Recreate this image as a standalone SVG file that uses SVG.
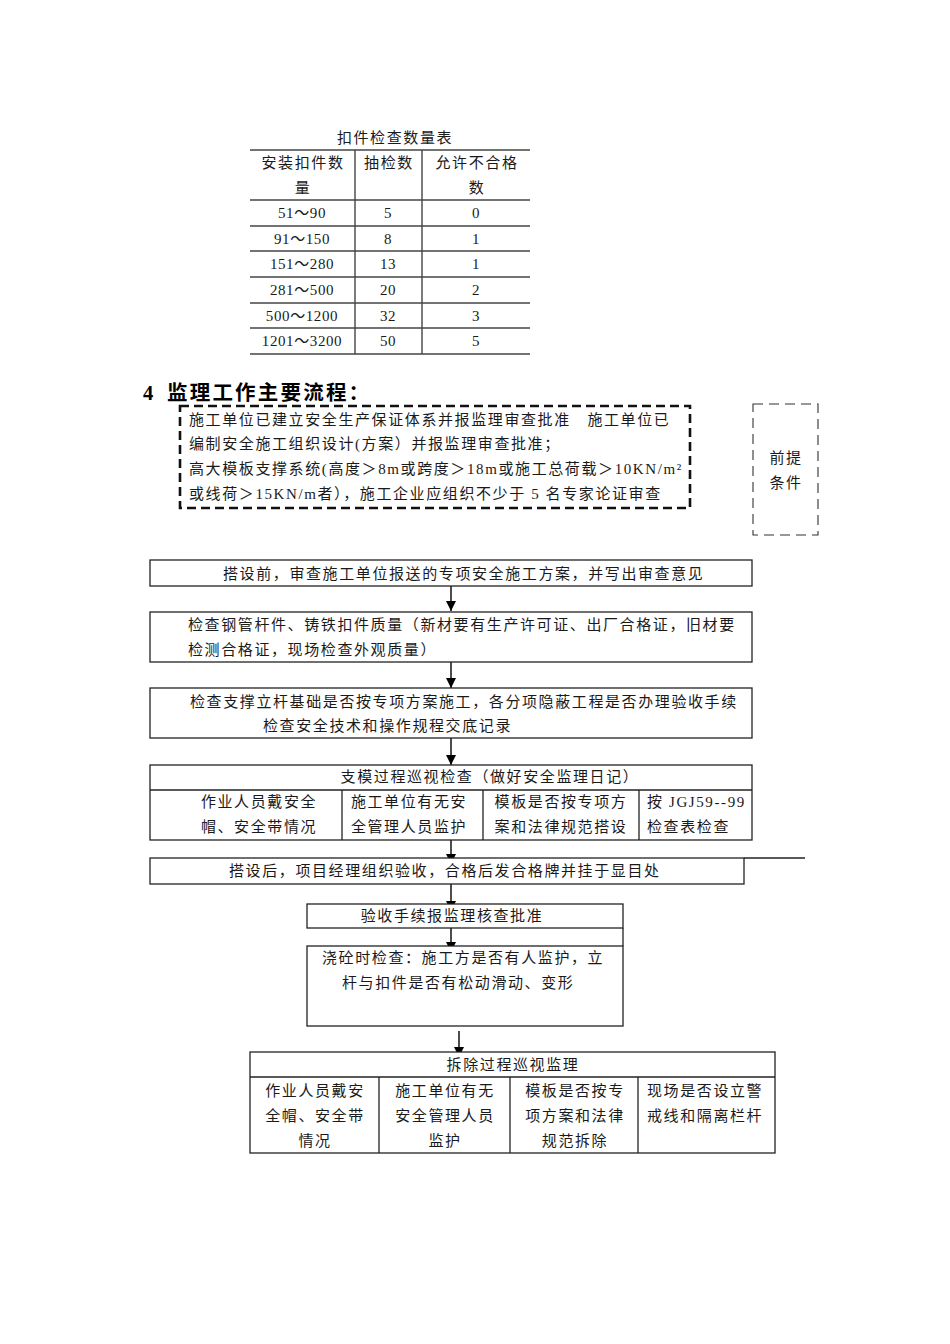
<svg xmlns="http://www.w3.org/2000/svg" width="950" height="1344" viewBox="0 0 950 1344">
<style>
.t{font-family:"Liberation Serif","Noto Sans CJK SC",serif;font-size:15px;fill:#1a1a1a;letter-spacing:1.6px}
.n{letter-spacing:0.6px}
.c{text-anchor:middle}
.b{fill:#fff;stroke:#222;stroke-width:1.3}
.ln{stroke:#222;stroke-width:1.3;fill:none}
.tl{stroke:#444;stroke-width:1.4;fill:none}
.h{font-family:"Liberation Serif","Noto Sans CJK SC",serif;font-size:20.5px;font-weight:bold;fill:#000;letter-spacing:2.2px}
.cn{stroke:#000;stroke-width:1.4;fill:none}
</style>
<defs>
<marker id="ah" markerWidth="10" markerHeight="10" refX="10" refY="5" orient="auto" markerUnits="userSpaceOnUse">
<path d="M0,0 L10,5 L0,10 Z" fill="#000"/>
</marker>
</defs>
<rect width="950" height="1344" fill="#fff"/>

<g id="table">
<text class="t c" x="395" y="143">扣件检查数量表</text>
<line class="tl" x1="250" y1="150" x2="530" y2="150"/>
<line class="tl" x1="250" y1="200" x2="530" y2="200"/>
<line class="tl" x1="250" y1="226" x2="530" y2="226"/>
<line class="tl" x1="250" y1="251" x2="530" y2="251"/>
<line class="tl" x1="250" y1="277" x2="530" y2="277"/>
<line class="tl" x1="250" y1="303" x2="530" y2="303"/>
<line class="tl" x1="250" y1="328" x2="530" y2="328"/>
<line class="tl" x1="250" y1="354" x2="530" y2="354"/>
<line class="tl" x1="355" y1="150" x2="355" y2="354"/>
<line class="tl" x1="422" y1="150" x2="422" y2="354"/>
<text class="t c" x="303" y="168">安装扣件数</text>
<text class="t c" x="303" y="193">量</text>
<text class="t c" x="389" y="168">抽检数</text>
<text class="t c" x="477" y="168">允许不合格</text>
<text class="t c" x="477" y="193">数</text>
<text class="t c n" x="302" y="218">51～90</text><text class="t c n" x="388" y="218">5</text><text class="t c n" x="476" y="218">0</text>
<text class="t c n" x="302" y="244">91～150</text><text class="t c n" x="388" y="244">8</text><text class="t c n" x="476" y="244">1</text>
<text class="t c n" x="302" y="269">151～280</text><text class="t c n" x="388" y="269">13</text><text class="t c n" x="476" y="269">1</text>
<text class="t c n" x="302" y="295">281～500</text><text class="t c n" x="388" y="295">20</text><text class="t c n" x="476" y="295">2</text>
<text class="t c n" x="302" y="321">500～1200</text><text class="t c n" x="388" y="321">32</text><text class="t c n" x="476" y="321">3</text>
<text class="t c n" x="302" y="346">1201～3200</text><text class="t c n" x="388" y="346">50</text><text class="t c n" x="476" y="346">5</text>
</g>

<g id="heading">
<text class="h" x="143" y="400">4</text>
<text class="h" x="167" y="400">监理工作主要流程：</text>
</g>

<g id="premise">
<rect x="180" y="406" width="510" height="102" fill="none" stroke="#111" stroke-width="2.6" stroke-dasharray="9 5"/>
<text class="t" x="189" y="425">施工单位已建立安全生产保证体系并报监理审查批准　施工单位已</text>
<text class="t" x="189" y="449">编制安全施工组织设计(方案）并报监理审查批准；</text>
<text class="t" x="189" y="474">高大模板支撑系统(高度＞8m或跨度＞18m或施工总荷载＞10KN/m²</text>
<text class="t" x="189" y="499">或线荷＞15KN/m者），施工企业应组织不少于 5 名专家论证审查</text>
</g>

<g id="precondition">
<rect x="753" y="404" width="65" height="131" fill="none" stroke="#333" stroke-width="1.1" stroke-dasharray="10 6"/>
<text class="t c" x="786" y="463">前提</text>
<text class="t c" x="786" y="488">条件</text>
</g>

<g id="connectors">
<line class="cn" x1="451" y1="586" x2="451" y2="611" marker-end="url(#ah)"/>
<line class="cn" x1="451" y1="662" x2="451" y2="688" marker-end="url(#ah)"/>
<line class="cn" x1="451" y1="738" x2="451" y2="765" marker-end="url(#ah)"/>
<line class="cn" x1="451" y1="840" x2="451" y2="864" marker-end="url(#ah)"/>
<line class="cn" x1="451" y1="884" x2="451" y2="911" marker-end="url(#ah)"/>
<line class="cn" x1="451" y1="928" x2="451" y2="952" marker-end="url(#ah)"/>
<line class="cn" x1="459" y1="1031" x2="459" y2="1057" marker-end="url(#ah)"/>
</g>

<g id="n1">
<rect class="b" x="150" y="560" width="602" height="26"/>
<text class="t" x="223" y="579">搭设前，审查施工单位报送的专项安全施工方案，并写出审查意见</text>
</g>

<g id="n2">
<rect class="b" x="150" y="612" width="602" height="50"/>
<text class="t" x="188" y="630">检查钢管杆件、铸铁扣件质量（新材要有生产许可证、出厂合格证，旧材要</text>
<text class="t" x="188" y="655">检测合格证，现场检查外观质量）</text>
</g>

<g id="n3">
<rect class="b" x="150" y="688" width="602" height="50"/>
<text class="t" x="190" y="707">检查支撑立杆基础是否按专项方案施工，各分项隐蔽工程是否办理验收手续</text>
<text class="t" x="263" y="731">检查安全技术和操作规程交底记录</text>
</g>

<g id="n4">
<rect class="b" x="150" y="765" width="602" height="75"/>
<line class="ln" x1="150" y1="790" x2="752" y2="790"/>
<line class="ln" x1="342" y1="790" x2="342" y2="840"/>
<line class="ln" x1="483" y1="790" x2="483" y2="840"/>
<line class="ln" x1="639" y1="790" x2="639" y2="840"/>
<text class="t c" x="490" y="782">支模过程巡视检查（做好安全监理日记）</text>
<text class="t c" x="259" y="807">作业人员戴安全</text>
<text class="t c" x="259" y="832">帽、安全带情况</text>
<text class="t c" x="409" y="807">施工单位有无安</text>
<text class="t c" x="409" y="832">全管理人员监护</text>
<text class="t c" x="561" y="807">模板是否按专项方</text>
<text class="t c" x="561" y="832">案和法律规范搭设</text>
<text class="t" x="647" y="807">按 JGJ59--99</text>
<text class="t" x="647" y="832">检查表检查</text>
</g>

<g id="n5">
<rect class="b" x="150" y="858" width="594" height="26"/>
<line class="ln" x1="744" y1="858" x2="805" y2="858"/>
<text class="t" x="229" y="876">搭设后，项目经理组织验收，合格后发合格牌并挂于显目处</text>
</g>

<g id="n6">
<rect class="b" x="307" y="904" width="316" height="24"/>
<line class="ln" x1="623" y1="928" x2="623" y2="946"/>
<text class="t c" x="452" y="921">验收手续报监理核查批准</text>
</g>

<g id="n7">
<rect class="b" x="307" y="946" width="316" height="80"/>
<text class="t" x="322" y="963">浇砼时检查：施工方是否有人监护，立</text>
<text class="t" x="342" y="988">杆与扣件是否有松动滑动、变形</text>
</g>

<g id="n8">
<rect class="b" x="250" y="1052" width="525" height="101"/>
<line class="ln" x1="250" y1="1077" x2="775" y2="1077"/>
<line class="ln" x1="379" y1="1077" x2="379" y2="1153"/>
<line class="ln" x1="510" y1="1077" x2="510" y2="1153"/>
<line class="ln" x1="638" y1="1077" x2="638" y2="1153"/>
<text class="t c" x="513" y="1070">拆除过程巡视监理</text>
<text class="t c" x="315" y="1096">作业人员戴安</text>
<text class="t c" x="315" y="1121">全帽、安全带</text>
<text class="t c" x="315" y="1146">情况</text>
<text class="t c" x="445" y="1096">施工单位有无</text>
<text class="t c" x="445" y="1121">安全管理人员</text>
<text class="t c" x="445" y="1146">监护</text>
<text class="t c" x="575" y="1096">模板是否按专</text>
<text class="t c" x="575" y="1121">项方案和法律</text>
<text class="t c" x="575" y="1146">规范拆除</text>
<text class="t" x="647" y="1096">现场是否设立警</text>
<text class="t" x="647" y="1121">戒线和隔离栏杆</text>
</g>
</svg>
